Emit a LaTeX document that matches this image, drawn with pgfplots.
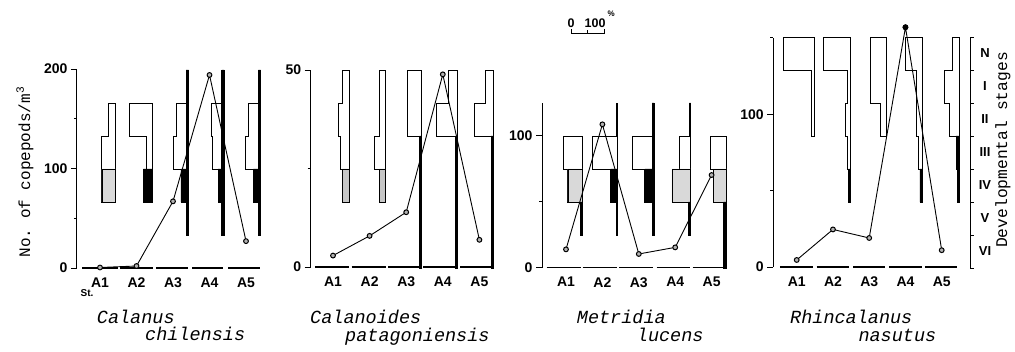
\documentclass[border=0pt]{standalone}
\usepackage{fontspec}
\setmainfont{Liberation Sans}
\setmonofont{Liberation Mono}
\usepackage{pgfplots}
\pgfplotsset{compat=1.18}

% kite outline: #1 right edge (station units), #2 station units per percent, #3 (w y) rows
\newcommand{\kite}[3]{\addplot[draw=black, fill=white, line width=0.8pt, line join=miter] table[row sep=\\, x expr={#1-\thisrow{w}*#2}, y=y] {w y\\ #3};}
% filled block: #1 right edge, #2 scale, #3 width (%), #4 y0, #5 y1, #6 fill
\newcommand{\blk}[6]{\addplot[draw=black, fill=#6, line width=0.6pt] table[row sep=\\, x expr={#1-\thisrow{w}*#2}, y=y] {w y\\ #3 #4\\ 0 #4\\ 0 #5\\ #3 #5\\ #3 #4\\};}

\pgfplotsset{
  cnt/.style={anchor=south west, clip=false, axis x line*=bottom, axis y line*=left,
    x axis line style={draw=none}, y axis line style={line width=1pt,-},
    xtick={1,2,3,4,5}, xticklabels={A1,A2,A3,A4,A5}, xtick style={draw=none},
    tick align=outside, major tick length=6pt, minor tick length=3pt,
    ytick style={line width=0.9pt, black},
    tick label style={font=\bfseries\fontsize{14}{14}\selectfont},
    /pgf/number format/assume math mode=true, xmax=5.6, ymin=0},
  stg/.style={anchor=south west, clip=false, hide axis, xmax=5.6, ymin=0, ymax=7, y=33pt},
  pts/.style={black, line width=0.9pt, mark=*, mark size=2.4pt, mark options={fill=gray!60, draw=black, line width=1pt}},
  seg/.style={black, line width=1.2pt, unbounded coords=jump, forget plot},
}
\colorlet{stip}{gray!30}

\begin{document}
\begin{tikzpicture}
\path[use as bounding box] (0,0) rectangle (1015pt,351pt);

% ---------------- Panel 1: Calanus chilensis ----------------
\begin{axis}[stg, at={(77pt,83pt)}, x=36.5pt, xmin=0.3699]
\def\c{0.00904}
\kite{1.430}{\c}{0 5\\ 22 5\\ 22 4\\ 42 4\\ 42 2\\ 0 2\\ 0 5\\}
\blk{1.430}{\c}{42}{2}{3}{stip}
\kite{2.433}{\c}{0 5\\ 68 5\\ 68 4\\ 17 4\\ 17 3\\ 27 3\\ 27 2\\ 0 2\\ 0 5\\}
\blk{2.433}{\c}{27}{2}{3}{black}
\kite{3.425}{\c}{0 6\\ 7 6\\ 7 5\\ 37 5\\ 37 4\\ 45 4\\ 45 3\\ 23 3\\ 23 2\\ 7 2\\ 7 1\\ 0 1\\ 0 6\\}
\blk{3.425}{\c}{7}{1}{6}{black}
\blk{3.425}{\c}{23}{2}{3}{black}
\kite{4.400}{\c}{0 6\\ 7 6\\ 7 5\\ 40 5\\ 40 4\\ 36 4\\ 36 3\\ 18 3\\ 18 2\\ 7 2\\ 7 1\\ 0 1\\ 0 6\\}
\blk{4.400}{\c}{7}{1}{6}{black}
\blk{4.400}{\c}{18}{2}{3}{black}
\kite{5.400}{\c}{0 6\\ 7 6\\ 7 5\\ 37 5\\ 37 4\\ 45 4\\ 45 3\\ 22 3\\ 22 2\\ 7 2\\ 7 1\\ 0 1\\ 0 6\\}
\blk{5.400}{\c}{7}{1}{6}{black}
\blk{5.400}{\c}{22}{2}{3}{black}
\end{axis}
\begin{axis}[cnt, at={(77pt,83pt)}, x=36.5pt, y=0.995pt, xmin=0.3699, ymax=200,
  ytick={0,100,200}, minor ytick={50,150}]
\addplot[seg] coordinates {(0.507,0)(1.493,0)(1.52,nan)(1.548,0)(2.452,0)(2.49,nan)(2.534,0)(3.411,0)(3.46,nan)(3.521,0)(4.370,0)(4.44,nan)(4.507,0)(5.384,0)};
\addplot[pts] coordinates {(1,0.5)(2,2)(3,67)(4,194)(5,27)};
\node[font=\bfseries\fontsize{10}{10}\selectfont] at (axis cs:0.644,-25) {St.};
\end{axis}

% ---------------- Panel 2: Calanoides patagoniensis ----------------
\begin{axis}[stg, at={(310.7pt,83pt)}, x=36.6pt, xmin=0.3907]
\def\c{0.009016}
\kite{1.445}{\c}{0 6\\ 20 6\\ 20 5\\ 33 5\\ 33 4\\ 26 4\\ 26 3\\ 20 3\\ 20 2\\ 0 2\\ 0 6\\}
\blk{1.445}{\c}{20}{2}{3}{gray!45}
\kite{2.421}{\c}{0 6\\ 17 6\\ 17 4\\ 33 4\\ 33 3\\ 17 3\\ 17 2\\ 0 2\\ 0 6\\}
\blk{2.421}{\c}{17}{2}{3}{gray!45}
\kite{3.421}{\c}{0 6\\ 43 6\\ 43 4\\ 6 4\\ 6 0\\ 0 0\\ 0 6\\}
\blk{3.421}{\c}{6}{0}{4}{black}
\kite{4.402}{\c}{0 6\\ 27 6\\ 27 5\\ 65 5\\ 65 4\\ 6 4\\ 6 0\\ 0 0\\ 0 6\\}
\blk{4.402}{\c}{6}{0}{4}{black}
\kite{5.380}{\c}{0 6\\ 25 6\\ 25 5\\ 58 5\\ 58 4\\ 7 4\\ 7 0\\ 0 0\\ 0 6\\}
\blk{5.380}{\c}{7}{0}{4}{black}
\end{axis}
\begin{axis}[cnt, at={(310.7pt,84pt)}, x=36.6pt, y=3.94pt, xmin=0.3907, ymax=50,
  ytick={0,50}, minor ytick={25}]
\addplot[seg] coordinates {(0.508,0)(1.445,0)(1.48,nan)(1.511,0)(2.440,0)(2.47,nan)(2.511,0)(3.377,0)(3.42,nan)(3.467,0)(4.380,0)(4.42,nan)(4.470,0)(5.363,0)};
\addplot[pts] coordinates {(1,2.9)(2,7.9)(3,13.9)(4,48.9)(5,6.9)};
\end{axis}

% ---------------- Panel 3: Metridia lucens ----------------
\begin{axis}[stg, at={(542pt,83pt)}, x=36.4pt, xmin=0.3407]
\def\c{0.009066}
\kite{1.459}{\c}{0 4\\ 58 4\\ 58 3\\ 45 3\\ 45 2\\ 8 2\\ 8 1\\ 0 1\\ 0 4\\}
\blk{1.459}{\c}{45}{2}{3}{stip}
\blk{1.459}{\c}{8}{1}{2}{black}
\kite{2.409}{\c}{0 5\\ 2 5\\ 2 4\\ 75 4\\ 75 3\\ 20 3\\ 20 2\\ 3 2\\ 3 1\\ 0 1\\ 0 5\\}
\blk{2.409}{\c}{20}{2}{3}{black}
\blk{2.409}{\c}{3}{1}{2}{black}
\kite{3.418}{\c}{0 5\\ 6 5\\ 6 4\\ 65 4\\ 65 3\\ 28 3\\ 28 2\\ 6 2\\ 6 1\\ 0 1\\ 0 5\\}
\blk{3.418}{\c}{6}{1}{5}{black}
\blk{3.418}{\c}{28}{2}{3}{black}
\kite{4.426}{\c}{0 5\\ 4 5\\ 4 4\\ 34 4\\ 34 3\\ 57 3\\ 57 2\\ 7 2\\ 7 1\\ 0 1\\ 0 5\\}
\blk{4.426}{\c}{4}{4}{5}{black}
\blk{4.426}{\c}{57}{2}{3}{stip}
\blk{4.426}{\c}{7}{1}{2}{black}
\kite{5.410}{\c}{0 4\\ 50 4\\ 50 3\\ 40 3\\ 40 2\\ 9 2\\ 9 0\\ 0 0\\ 0 4\\}
\blk{5.410}{\c}{40}{2}{3}{stip}
\blk{5.410}{\c}{9}{0}{2}{black}
% scale bar 0--100 %
\addplot[black, line width=0.8pt] coordinates {(1.137,7.242)(1.137,7.121)(2.052,7.121)(2.052,7.242)};
\addplot[black, line width=0.8pt] coordinates {(1.596,7.121)(1.596,7.2)};
\node[font=\bfseries\fontsize{12.5}{12.5}\selectfont] at (axis cs:1.137,7.42) {0};
\node[font=\bfseries\fontsize{12.5}{12.5}\selectfont] at (axis cs:1.80,7.42) {100};
\node[font=\bfseries\fontsize{8}{8}\selectfont, inner sep=0pt] at (axis cs:2.24,7.70) {\%};
\end{axis}
\begin{axis}[cnt, at={(542pt,83.3pt)}, x=36.4pt, y=1.32pt, xmin=0.3407, ymax=124.5,
  ytick={0,100}, minor ytick={50}]
\addplot[seg] coordinates {(0.470,0)(1.404,0)(1.43,nan)(1.459,0)(2.409,0)(2.44,nan)(2.464,0)(3.398,0)(3.44,nan)(3.492,0)(4.407,0)(4.44,nan)(4.481,0)(5.368,0)};
\addplot[pts] coordinates {(1,13.9)(2,108.6)(3,10.4)(4,15.4)(5,70.2)};
\end{axis}

% ---------------- Panel 4: Rhincalanus nasutus ----------------
\begin{axis}[anchor=south west, clip=false, at={(773.3pt,83pt)}, x=36.25pt, y=33pt,
  xmin=0.3545, xmax=5.781, ymin=0, ymax=7,
  axis x line=none, axis y line*=right, y axis line style={line width=1pt,-},
  ytick={0,1,2,3,4,5,6,7}, yticklabels={}, tick align=outside, major tick length=3.5pt,
  ytick style={line width=0.9pt, black}]
\def\c{0.009103}
\kite{1.477}{\c}{0 7\\ 93 7\\ 93 6\\ 7 6\\ 7 4\\ 0 4\\ 0 7\\}
\kite{2.470}{\c}{0 7\\ 81 7\\ 81 6\\ 7 6\\ 7 5\\ 13 5\\ 13 4\\ 8 4\\ 8 3\\ 4 3\\ 4 2\\ 0 2\\ 0 7\\}
\blk{2.470}{\c}{4}{2}{3}{black}
\kite{3.483}{\c}{0 7\\ 48 7\\ 48 5\\ 18 5\\ 18 4\\ 0 4\\ 0 7\\}
\kite{4.464}{\c}{0 7\\ 52 7\\ 52 6\\ 19 6\\ 19 4\\ 12 4\\ 12 3\\ 7 3\\ 7 2\\ 0 2\\ 0 7\\}
\blk{4.464}{\c}{7}{2}{3}{black}
\kite{5.477}{\c}{0 7\\ 20 7\\ 20 6\\ 44 6\\ 44 5\\ 29 5\\ 29 4\\ 9 4\\ 9 3\\ 5 3\\ 5 2\\ 0 2\\ 0 7\\}
\blk{5.477}{\c}{9}{3}{4}{black}
\blk{5.477}{\c}{5}{2}{3}{black}
\foreach \s/\lab in {0/VI,1/V,2/IV,3/III,4/II,5/I,6/N}{
  \edef\tmp{\noexpand\node[font=\noexpand\bfseries\noexpand\fontsize{13}{13}\noexpand\selectfont] at (axis cs:6.194,\s+0.5) {\lab};}\tmp
}
\end{axis}
\begin{axis}[cnt, at={(773.3pt,84pt)}, x=36.25pt, y=1.527pt, xmin=0.3545, ymax=150,
  ytick={0,100}, minor ytick={50,150}]
\addplot[seg] coordinates {(0.539,0)(1.450,0)(1.50,nan)(1.552,0)(2.442,0)(2.50,nan)(2.555,0)(3.437,0)(3.49,nan)(3.543,0)(4.445,0)(4.49,nan)(4.537,0)(5.412,0)};
\addplot[pts] coordinates {(1,4.6)(2,24.6)(3,19)(4,157)(5,11)};
\addplot[only marks, mark=*, mark size=2.6pt, black] coordinates {(4,157)};
\end{axis}

% ---------------- texts ----------------
\node[rotate=90, font=\ttfamily\fontsize{16}{16}\selectfont] at (25pt,179pt) {No. of copepods/m\textsuperscript{3}};
\node[rotate=90, font=\ttfamily\fontsize{16.3}{16.3}\selectfont] at (1003pt,201pt) {Developmental stages};
\begin{scope}[every node/.style={anchor=base west, inner sep=0pt, font=\ttfamily\itshape\fontsize{18.5}{18.5}\selectfont}]
\node at (96.7pt,28pt) {Calanus};
\node at (145pt,11pt) {chilensis};
\node at (310pt,28pt) {Calanoides};
\node at (345pt,10pt) {patagoniensis};
\node at (576.7pt,28pt) {Metridia};
\node at (636.7pt,10pt) {lucens};
\node at (790pt,28pt) {Rhincalanus};
\node at (858.3pt,10pt) {nasutus};
\end{scope}
\end{tikzpicture}
\end{document}
